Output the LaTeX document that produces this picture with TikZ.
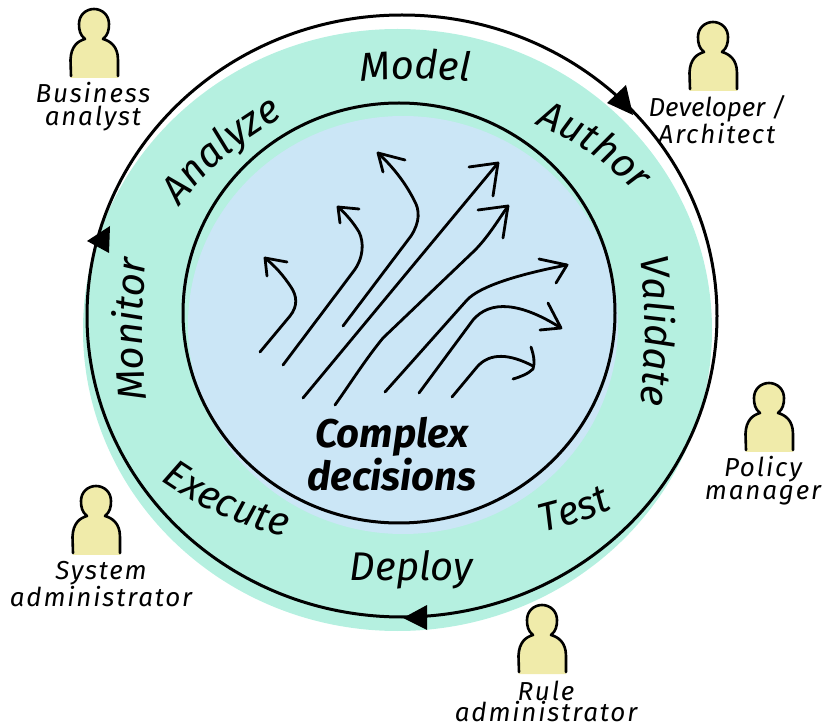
\documentclass[tikz,border=0pt]{standalone}
\usepackage{fontspec}
\setmainfont{Fira Sans}
\usetikzlibrary{decorations.text}
\definecolor{ringteal}{RGB}{181, 240, 224}
\definecolor{coreblue}{RGB}{203, 230, 246}
\definecolor{personyellow}{RGB}{240, 235, 170}
\newcommand{\phasefont}{\fontsize{40}{40}\selectfont\itshape}
\newcommand{\rolefont}{\fontsize{26}{23}\selectfont\itshape\addfontfeature{LetterSpace=7}}
\newcommand{\corefont}{\fontsize{40}{43}\selectfont\itshape\bfseries}
\begin{document}
\begin{tikzpicture}[x=1pt, y=-1pt,
    ringline/.style={black, line width=3pt},
    flow/.style={black, line width=2.8pt, line cap=round, line join=round},
    tiphead/.style={fill=black},
    phase/.style={decoration={text along path, text align=center, text={|\phasefont|#1}}, decorate},
    role/.style={align=center, font=\rolefont, inner sep=0pt},
    person/.pic={
        \fill[personyellow] (-23,0) -- (-23.5,-18) .. controls (-23,-32) and (-16,-37) .. (-9,-39)
            .. controls (-14,-43) and (-15,-48) .. (-15,-54) .. controls (-15,-63) and (-8,-69) .. (0,-69)
            .. controls (8,-69) and (15,-63) .. (15,-54) .. controls (15,-48) and (14,-43) .. (9,-39)
            .. controls (16,-37) and (24,-32) .. (24,-18) -- (24,0) -- cycle;
        \draw[black, line width=2.6pt, line cap=round, line join=round] (-23,-2) -- (-23.5,-18) .. controls (-23,-32) and (-16,-37) .. (-9,-39)
            .. controls (-14,-43) and (-15,-48) .. (-15,-54) .. controls (-15,-63) and (-8,-69) .. (0,-69)
            .. controls (8,-69) and (15,-63) .. (15,-54) .. controls (15,-48) and (14,-43) .. (9,-39)
            .. controls (16,-37) and (24,-32) .. (24,-18) -- (24,-2);
    }]
    \useasboundingbox (0,0) rectangle (823,727);

    % Discs
    \fill[ringteal] (397.5,330) ellipse [x radius=314.5, y radius=301];
    \fill[coreblue] (403,325) ellipse [x radius=215, y radius=209];
    \draw[ringline] (399,313) ellipse [x radius=216, y radius=210];
    \draw[ringline] (402,316) ellipse [x radius=315, y radius=301];

    % Arrowheads on the outer ring
    \fill[tiphead] (633,115) -- (626,85) -- (607,103) -- cycle;
    \fill[tiphead] (110,226) -- (87,241) -- (109,253) -- cycle;
    \fill[tiphead] (403,618) -- (427,605) -- (427,630) -- cycle;

    % Phases
    \path[phase=Model] (358,82) to[bend left=5] (472,82);
    \path[phase=Author] (530,122) to[bend left=12] (640,197);
    \path[phase=Validate] (640,250) to[bend left=6] (640,412);
    \path[phase=Test] (541,533) to[bend right=5] (614,508);
    \path[phase=Deploy] (350,580) -- (473,580);
    \path[phase=Execute] (160,480) to[bend right=10] (286,537);
    \path[phase=Monitor] (147,407) to[bend left=6] (147,252);
    \path[phase=Analyze] (170,218) to[bend left=12] (296,110);

    % Flows in the core
    \draw[flow] (260,352) -- (290,316) .. controls (298,306) and (297,296) .. (291,287) .. controls (283,275) and (275,266) .. (265,258);
    \draw[flow] (287,262) -- (265,258) -- (267,276);
    \draw[flow] (283,365) -- (353,272) .. controls (364,258) and (364,242) .. (359,232) .. controls (353,222) and (346,214) .. (338,207);
    \draw[flow] (359,209) -- (338,207) -- (340,223);
    \draw[flow] (343,326) -- (411,236) .. controls (420,222) and (420,210) .. (414,200) .. controls (405,182) and (392,166) .. (378,153);
    \draw[flow] (405,160) -- (378,153) -- (383,172);
    \draw[flow] (303,398) -- (498,163);
    \draw[flow] (469,167) -- (498,163) -- (493,196);
    \draw[flow] (335,405) .. controls (350,384) and (365,360) .. (383,338) -- (472,253) .. controls (486,240) and (497,222) .. (508,206);
    \draw[flow] (478,210) -- (508,206) -- (503,238);
    \draw[flow] (385,392) -- (467,300) .. controls (480,286) and (520,274) .. (567,265);
    \draw[flow] (539,259) -- (567,265) -- (556,283);
    \draw[flow] (419,393) -- (473,320) .. controls (490,300) and (520,302) .. (561,328);
    \draw[flow] (548,303) -- (561,328) -- (540,330);
    \draw[flow] (452,397) -- (477,367) .. controls (490,352) and (510,354) .. (533,366);
    \draw[flow] (531,347) .. controls (534,356) and (535,363) .. (533,369) .. controls (528,374) and (520,377) .. (513,379);

    % Core label
    \node[align=center, font=\corefont, inner sep=0pt] (corelabel) at (392,454) {Complex\\decisions};

    % People
    \pic at (94,78) {person};
    \node[role] (businesslabel) at (93,107) {Business\\analyst};
    \pic at (713,91) {person};
    \node[role] (developerlabel) at (717,120) {\addfontfeature{LetterSpace=0}Developer /\\Architect};
    \pic at (769,452) {person};
    \node[role] (policylabel) at (763,481) {Policy\\manager};
    \pic at (96,555) {person};
    \node[role] (systemlabel) at (101,584) {System\\administrator};
    \pic at (542,674) {person};
    \node[role] (rulelabel) at (546,701) {Rule\\[-2pt]administrator};
\end{tikzpicture}
\end{document}
